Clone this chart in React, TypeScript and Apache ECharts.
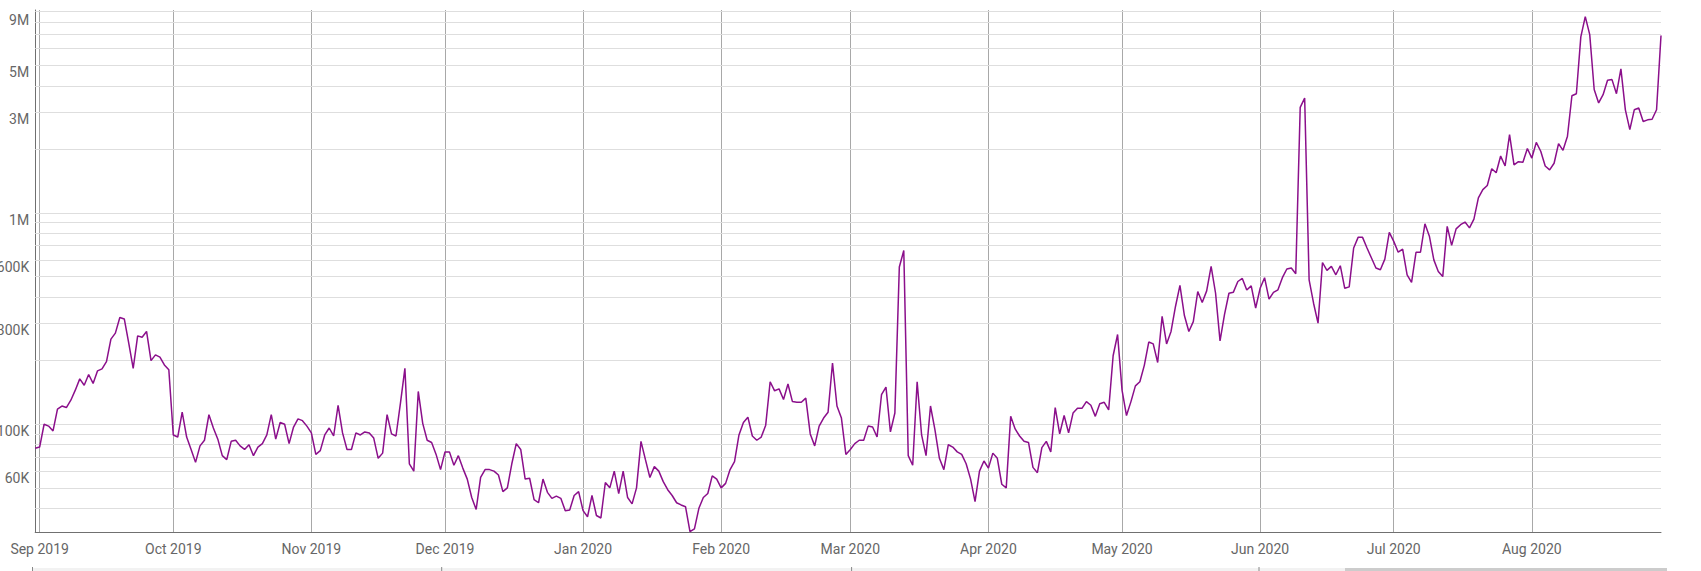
import React, { useEffect, useRef } from "react";
import * as echarts from "echarts";

// Daily values, in thousands, from 2019-08-31 to 2020-08-30
const aug2019K = [77];
const sep2019K = [78, 100, 98, 93, 118, 122, 120, 130, 145, 164, 153, 172, 156, 179, 183, 198, 253, 270, 320, 315, 242, 184, 262, 258, 275, 200, 213, 208, 191, 181];
const oct2019K = [89, 87, 114, 87, 76, 66, 79, 84, 111, 96, 85, 71, 68, 83, 84, 79, 76, 80, 71, 78, 81, 89, 111, 85, 102, 100, 81, 97, 106, 104, 98];
const nov2019K = [91, 72, 75, 89, 96, 88, 123, 91, 76, 76, 91, 89, 92, 91, 86, 69, 73, 111, 90, 88, 126, 184, 65, 60, 143, 101, 84, 82, 72, 61];
const dec2019K = [74, 74, 64, 71, 62, 55, 45, 39.5, 56, 61, 61, 60, 57.5, 48, 50, 65, 81, 76, 55, 55.5, 44, 42.5, 55, 47.6, 44.6, 45.7, 44.6, 39, 39.3, 46, 48];
const jan2020K = [39, 36.5, 46, 37, 36, 53, 50, 60, 47, 60, 45, 42, 50, 83, 68, 56, 63, 60, 53.5, 49, 46, 42.5, 41.5, 40.7, 31, 32, 40, 45, 47, 57, 55];
const feb2020K = [50, 52.5, 61, 66.5, 89, 102, 108, 88, 84, 87, 99, 159, 144, 147, 131, 155, 128, 127, 127, 133, 90, 79, 98, 107, 114, 195, 122, 107, 72];
const mar2020K = [76, 81, 84, 84, 98, 97, 87, 138, 150, 92, 113, 555, 664, 71, 64, 159, 89, 71, 122, 94, 69, 61, 80, 78, 74, 72, 65, 55, 43, 60, 67];
const apr2020K = [62, 73, 69, 52, 50, 109, 95, 88, 83, 82, 62.5, 59, 77.5, 83, 74, 120, 90, 110, 91, 113, 119, 119, 128, 123, 109, 125, 127, 117, 211, 266];
const may2020K = [145, 110, 128, 152, 159, 190, 245, 240, 196, 324, 240, 275, 361, 454, 327, 275, 306, 425, 377, 428, 559, 417, 248, 330, 417, 422, 474, 490, 432, 452, 355];
const jun2020K = [440, 494, 391, 421, 433, 494, 543, 549, 516, 3160, 3500, 483, 374, 301, 583, 535, 559, 510, 563, 440, 447, 683, 767, 767, 683, 612, 549, 539, 605, 810];
const jul2020K = [734, 652, 674, 510, 470, 652, 652, 889, 777, 600, 529, 500, 864, 703, 841, 880, 906, 850, 936, 1180, 1290, 1350, 1620, 1550, 1860, 1670, 2350, 1690, 1750, 1740, 2020];
const aug2020K = [1820, 2160, 1960, 1670, 1600, 1720, 2130, 1980, 2310, 3590, 3670, 6820, 8500, 6990, 3840, 3320, 3630, 4250, 4280, 3670, 4810, 3080, 2480, 3080, 3140, 2710, 2760, 2780, 3080, 6920];

const START_UTC = Date.UTC(2019, 7, 31);
const monthNames = ["Jan", "Feb", "Mar", "Apr", "May", "Jun", "Jul", "Aug", "Sep", "Oct", "Nov", "Dec"];

// Horizontal grid lines (log minor steps) and the ones that carry a label
const gridValues = [
  40e3, 50e3, 60e3, 70e3, 80e3, 90e3,
  100e3, 200e3, 300e3, 400e3, 500e3, 600e3, 700e3, 800e3, 900e3,
  1e6, 2e6, 3e6, 4e6, 5e6, 6e6, 7e6, 8e6, 9e6,
];
const labelledValues = [60e3, 100e3, 300e3, 600e3, 1e6, 3e6, 5e6, 9e6];

const Y_MIN = 30800;
const Y_MAX = 9140000;

const allK = [
  ...aug2019K, ...sep2019K, ...oct2019K, ...nov2019K, ...dec2019K, ...jan2020K,
  ...feb2020K, ...mar2020K, ...apr2020K, ...may2020K, ...jun2020K, ...jul2020K, ...aug2020K,
];
const values = allK.map((v) => v * 1000);
const dates = allK.map((_, i) => new Date(START_UTC + i * 86400000).toISOString().slice(0, 10));

function fmtValue(v: number): string {
  return v >= 1e6 ? `${v / 1e6}M` : `${v / 1e3}K`;
}

const FONT = "Roboto, 'Noto Sans', sans-serif";

export default function App() {
  const ref = useRef<HTMLDivElement>(null);

  useEffect(() => {
    if (!ref.current) return;
    const chart = echarts.init(ref.current, undefined, { renderer: "svg" });

    const isMonthStart = (_idx: number, value: string) => typeof value === "string" && value.endsWith("-01");

    const markData = gridValues.map((v) => {
      const labelled = labelledValues.includes(v);
      return {
        yAxis: v,
        label: labelled
          ? {
              show: true,
              position: "start",
              distance: 6,
              // empty first line pushes the visible text just below its grid line
              formatter: "\n" + fmtValue(v),
              lineHeight: v === 9e6 ? 18 : 14,
              color: "#666666",
              fontSize: 14,
              fontFamily: FONT,
            }
          : { show: false },
      };
    });

    chart.setOption({
      animation: false,
      backgroundColor: "#ffffff",
      grid: { left: 35.2, right: 40, top: 10, bottom: 38.7, containLabel: false },
      xAxis: {
        type: "category",
        data: dates,
        boundaryGap: false,
        axisLine: { show: true, onZero: false, lineStyle: { color: "#707070", width: 1 } },
        axisTick: { show: false },
        axisLabel: {
          interval: isMonthStart,
          margin: 10,
          color: "#666666",
          fontSize: 14,
          fontFamily: FONT,
          formatter: (value: string) => {
            const [y, m] = value.split("-");
            return `${monthNames[Number(m) - 1]} ${y}`;
          },
        },
        splitLine: { show: true, interval: isMonthStart, lineStyle: { color: "#a8a8a8", width: 1 } },
      },
      yAxis: {
        type: "log",
        logBase: 10,
        min: Y_MIN,
        max: Y_MAX,
        axisLine: { show: true, onZero: false, lineStyle: { color: "#707070", width: 1 } },
        axisTick: { show: false },
        axisLabel: { show: false },
        splitLine: { show: false },
        minorSplitLine: { show: false },
      },
      series: [
        {
          type: "line",
          data: values,
          symbol: "none",
          z: 3,
          lineStyle: { color: "#8b0f8b", width: 1.5 },
          itemStyle: { color: "#8b0f8b" },
          markLine: {
            silent: true,
            z: 1,
            symbol: ["none", "none"],
            lineStyle: { color: "#dedede", width: 1, type: "solid" },
            emphasis: { disabled: true },
            label: { show: false },
            data: markData,
          },
        },
      ],
      graphic: [
        { type: "rect", shape: { x: 32, y: 568, width: 1635, height: 3 }, style: { fill: "#f2f2f2" }, silent: true },
        { type: "rect", shape: { x: 1345, y: 568, width: 322, height: 3 }, style: { fill: "#cccccc" }, silent: true },
        { type: "line", shape: { x1: 32.5, y1: 567, x2: 32.5, y2: 571 }, style: { stroke: "#888888", lineWidth: 1 }, silent: true },
        { type: "line", shape: { x1: 441.7, y1: 567, x2: 441.7, y2: 571 }, style: { stroke: "#888888", lineWidth: 1 }, silent: true },
        { type: "line", shape: { x1: 851.6, y1: 567, x2: 851.6, y2: 571 }, style: { stroke: "#888888", lineWidth: 1 }, silent: true },
        { type: "line", shape: { x1: 1259, y1: 567, x2: 1259, y2: 571 }, style: { stroke: "#888888", lineWidth: 1 }, silent: true },
      ],
    });

    return () => chart.dispose();
  }, []);

  return (
    <div
      ref={ref}
      style={{ position: "fixed", left: 0, top: 0, width: 1701, height: 571, background: "#ffffff" }}
    />
  );
}
